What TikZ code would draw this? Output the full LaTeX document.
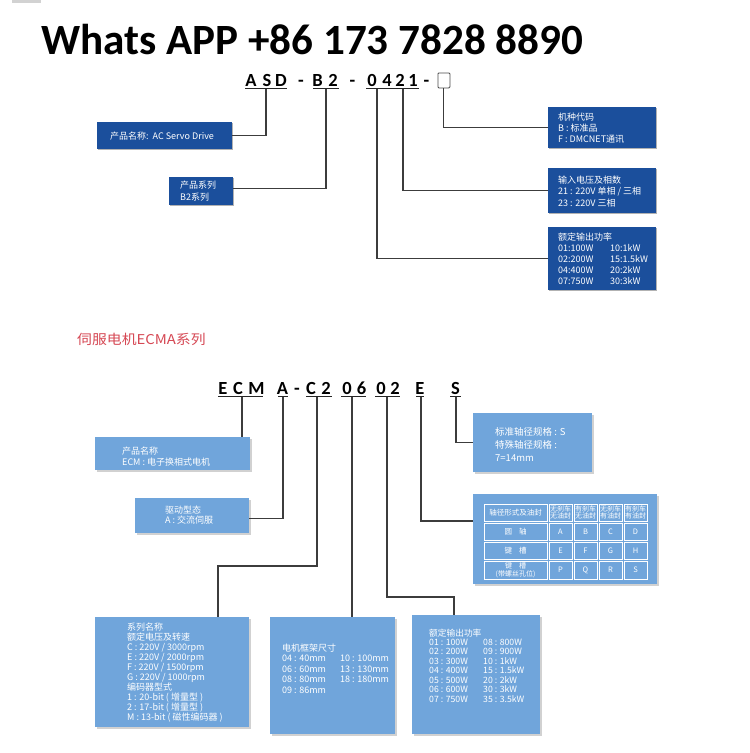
\documentclass[tikz,border=0pt]{standalone}
\usepackage{fontspec}
\setmainfont{Noto Sans CJK SC}
\newfontfamily\titlef{Carlito}
\newfontfamily\cjk{Noto Sans CJK SC}
\usetikzlibrary{shadows}
\definecolor{dblue}{RGB}{27,79,156}
\definecolor{lblue}{RGB}{112,165,219}
\definecolor{redt}{RGB}{214,72,84}
\definecolor{conncol}{RGB}{60,60,60}
\newcommand\Lx[1]{\hbox{#1}}
\newcommand\Stack[2]{\vtop{\baselineskip=#1pt\lineskiplimit=-50pt\lineskip=0pt #2}}
\tikzset{
  dbox/.style={rectangle, fill=dblue, inner sep=0pt, anchor=north west,
    drop shadow={opacity=0.3, shadow xshift=1.2pt, shadow yshift=-1.2pt, fill=black}},
  lbox/.style={rectangle, fill=lblue, inner sep=0pt, anchor=north west,
    drop shadow={opacity=0.18, shadow xshift=1.5pt, shadow yshift=-1.5pt, fill=black}},
  btext/.style={text=white, inner sep=0pt, anchor=base west, font=\cjk\fontsize{9}{10}\selectfont},
  codech/.style={inner sep=0pt, anchor=base, font=\titlef\bfseries\fontsize{18.5}{18.5}\selectfont},
  uline/.style={line width=1.1pt, draw=black!85},
  conn/.style={draw=conncol, line width=1.1pt},
  celltxt/.style={text=white, inner sep=0pt, align=center, font=\cjk\fontsize{7.5}{8}\selectfont},
  cellgrid/.style={draw=white, line width=0.8pt},
}
\begin{document}
\begin{tikzpicture}[x=1pt,y=-1pt]
\useasboundingbox (0,0) rectangle (750,753);
\fill[white] (0,0) rectangle (750,753);
\fill[gray!35] (12,0) rectangle (41,2.5);

% title
\node[anchor=base west, inner sep=0pt] (title) at (41,54)
  {\resizebox{542pt}{!}{\titlef\bfseries Whats APP +86 173 7828 8890}};

% ---------- top code ----------
\node[codech] (cA) at (251,86) {A};
\node[codech] (cS) at (267,86) {S};
\node[codech] (cD) at (281,86) {D};
\node[codech] (cd1) at (301,86) {-};
\node[codech] (cB) at (317.5,86) {B};
\node[codech] (c2) at (333,86) {2};
\node[codech] (cd2) at (352.5,86) {-};
\node[codech] (c0) at (372,86) {0};
\node[codech] (c4) at (387,86) {4};
\node[codech] (c2b) at (400,86) {2};
\node[codech] (c1) at (413,86) {1};
\node[codech] (cd3) at (426.5,86) {-};
\node[draw=black!70, line width=0.8pt, rounded corners=1pt, minimum width=12pt,
  minimum height=15pt, inner sep=0pt, anchor=north west] (sq) at (437.5,72.5) {};
\draw[uline] (245,88.5) -- (287,88.5);
\draw[uline] (313,88.5) -- (339,88.5);
\draw[uline] (366,88.5) -- (419,88.5);
\coordinate (uASD) at (266,88.5);
\coordinate (uB2) at (326,88.5);
\coordinate (u04) at (377,88.5);
\coordinate (u21) at (403,88.5);

% top boxes
\node[dbox, minimum width=135pt, minimum height=27pt] (box1) at (97,122) {};
\node[dbox, minimum width=64pt, minimum height=28pt] (box2) at (169,177) {};
\node[dbox, minimum width=108pt, minimum height=41pt] (box3) at (548,107) {};
\node[dbox, minimum width=108pt, minimum height=45pt] (box4) at (548,168) {};
\node[dbox, minimum width=108pt, minimum height=63pt] (box5) at (548,227) {};

\node[btext] (t1) at (110,139) {产品名称:\ \ AC Servo Drive};
\node[btext] (t2) at (180,188) {\Stack{12}{\Lx{产品系列}\Lx{B2系列}}};
\node[btext] (t3) at (558,120) {\Stack{11}{\Lx{机种代码}\Lx{B : 标准品}\Lx{F : DMCNET通讯}}};
\node[btext] (t4) at (558,183) {\Stack{11.5}{\Lx{输入电压及相数}\Lx{21 : 220V 单相 / 三相}\Lx{23 : 220V 三相}}};
\node[btext] (t5) at (558,240) {\Stack{11.2}{\Lx{额定输出功率}
  \Lx{\makebox[52pt][l]{01:100W}10:1kW}
  \Lx{\makebox[52pt][l]{02:200W}15:1.5kW}
  \Lx{\makebox[52pt][l]{04:400W}20:2kW}
  \Lx{\makebox[52pt][l]{07:750W}30:3kW}}};

\draw[conn] (uASD) |- (box1.east);
\draw[conn] (uB2) |- ([yshift=2.5pt]box2.east);
\draw[conn] (u04) |- (box5.west);
\draw[conn] (u21) |- (box4.west);
\draw[conn] (sq.south) |- (box3.west);

% ---------- bottom ----------
\node[anchor=base west, inner sep=0pt, text=redt, font=\cjk\fontsize{13.5}{13.5}\selectfont] (sub) at (77,344)
  {\scalebox{1.1}[1]{伺服电机ECMA系列}};

\node[codech] (eE) at (223,394) {E};
\node[codech] (eC) at (238,394) {C};
\node[codech] (eM) at (256.5,394) {M};
\node[codech] (eA) at (282.5,394) {A};
\node[codech] (ed) at (297,394) {-};
\node[codech] (eC2) at (311,394) {C};
\node[codech] (e2) at (326,394) {2};
\node[codech] (e0) at (347,394) {0};
\node[codech] (e6) at (361.5,394) {6};
\node[codech] (e0b) at (381,394) {0};
\node[codech] (e2b) at (395,394) {2};
\node[codech] (eE2) at (420,394) {E};
\node[codech] (eS) at (455.5,394) {S};
\draw[uline] (218,396.5) -- (263,396.5);
\draw[uline] (278,396.5) -- (288,396.5);
\draw[uline] (306,396.5) -- (332,396.5);
\draw[uline] (341,396.5) -- (366,396.5);
\draw[uline] (375,396.5) -- (400,396.5);
\draw[uline] (416,396.5) -- (424,396.5);
\draw[uline] (450,396.5) -- (461,396.5);
\coordinate (uECM) at (242,396.5);
\coordinate (uA) at (283,396.5);
\coordinate (uC2) at (317,396.5);
\coordinate (u06) at (352,396.5);
\coordinate (u02) at (387,396.5);
\coordinate (uE) at (421,396.5);
\coordinate (uS) at (456,396.5);
\coordinate (kC2) at (218,566);
\coordinate (k02) at (454,597);
\coordinate (kE) at (421,521);

\node[lbox, minimum width=155pt, minimum height=33pt] (bECM) at (95,437) {};
\node[lbox, minimum width=114pt, minimum height=35pt] (bA) at (135,498) {};
\node[lbox, minimum width=119pt, minimum height=59pt] (bS) at (473,413) {};
\node[lbox, minimum width=184pt, minimum height=90pt] (tbl) at (473,494) {};
\node[lbox, minimum width=154pt, minimum height=110pt] (bSer) at (95,617) {};
\node[lbox, minimum width=125pt, minimum height=117pt] (bFrm) at (270,617) {};
\node[lbox, minimum width=128pt, minimum height=119pt] (bPow) at (412,615) {};

\node[btext] (t6) at (122,454) {\Stack{11}{\Lx{产品名称}\Lx{ECM : 电子换相式电机}}};
\node[btext] (t7) at (165,513) {\Stack{10.5}{\Lx{驱动型态}\Lx{A : 交流伺服}}};
\node[btext, font=\cjk\fontsize{9.5}{10}\selectfont] (t8) at (495,435)
  {\Stack{13}{\Lx{标准轴径规格 : S}\Lx{特殊轴径规格 :}\Lx{7=14mm}}};
\node[btext] (t9) at (127,630) {\Stack{10.1}{\Lx{系列名称}\Lx{额定电压及转速}
  \Lx{C : 220V / 3000rpm}\Lx{E : 220V / 2000rpm}\Lx{F : 220V / 1500rpm}
  \Lx{G : 220V / 1000rpm}\Lx{编码器型式}\Lx{1 : 20-bit ( 增量型 )}
  \Lx{2 : 17-bit ( 增量型 )}\Lx{M : 13-bit ( 磁性编码器 )}}};
\node[btext] (t10) at (282,651) {\Stack{10.5}{\Lx{电机框架尺寸}
  \Lx{\makebox[58pt][l]{04 : 40mm}10 : 100mm}
  \Lx{\makebox[58pt][l]{06 : 60mm}13 : 130mm}
  \Lx{\makebox[58pt][l]{08 : 80mm}18 : 180mm}
  \Lx{09 : 86mm}}};
\node[btext, font=\cjk\fontsize{8.7}{9}\selectfont] (t11) at (429,636) {\Stack{9.45}{\Lx{额定输出功率}
  \Lx{\makebox[54pt][l]{01 : 100W}08 : 800W}
  \Lx{\makebox[54pt][l]{02 : 200W}09 : 900W}
  \Lx{\makebox[54pt][l]{03 : 300W}10 : 1kW}
  \Lx{\makebox[54pt][l]{04 : 400W}15 : 1.5kW}
  \Lx{\makebox[54pt][l]{05 : 500W}20 : 2kW}
  \Lx{\makebox[54pt][l]{06 : 600W}30 : 3kW}
  \Lx{\makebox[54pt][l]{07 : 750W}35 : 3.5kW}}};

% table grid
\foreach \xa/\xb in {483/548, 548/573, 573/598, 598/623, 623/648}
  \foreach \ya/\yb in {503/522, 522/541, 541/560, 560/580}
    \draw[cellgrid] (\xa+1,\ya+1) rectangle (\xb-1,\yb-1);
\node[celltxt] (h1) at (515.5,512.5) {轴径形式及油封};
\node[celltxt, font=\cjk\fontsize{7}{7.5}\selectfont] (h2) at (560.5,512.5) {无刹车\\无油封};
\node[celltxt, font=\cjk\fontsize{7}{7.5}\selectfont] (h3) at (585.5,512.5) {有刹车\\无油封};
\node[celltxt, font=\cjk\fontsize{7}{7.5}\selectfont] (h4) at (610.5,512.5) {无刹车\\有油封};
\node[celltxt, font=\cjk\fontsize{7}{7.5}\selectfont] (h5) at (635.5,512.5) {有刹车\\有油封};
\node[celltxt] (r21) at (515.5,531.5) {圆\hspace{7pt}轴};
\node[celltxt] (r22) at (560.5,531.5) {A};
\node[celltxt] (r23) at (585.5,531.5) {B};
\node[celltxt] (r24) at (610.5,531.5) {C};
\node[celltxt] (r25) at (635.5,531.5) {D};
\node[celltxt] (r31) at (515.5,550.5) {键\hspace{7pt}槽};
\node[celltxt] (r32) at (560.5,550.5) {E};
\node[celltxt] (r33) at (585.5,550.5) {F};
\node[celltxt] (r34) at (610.5,550.5) {G};
\node[celltxt] (r35) at (635.5,550.5) {H};
\node[celltxt, font=\cjk\fontsize{7}{7.5}\selectfont] (r41) at (515.5,570) {键\hspace{7pt}槽\\(带螺丝孔位)};
\node[celltxt] (r42) at (560.5,570) {P};
\node[celltxt] (r43) at (585.5,570) {Q};
\node[celltxt] (r44) at (610.5,570) {R};
\node[celltxt] (r45) at (635.5,570) {S};

% bottom connectors
\draw[conn] (uECM) -- (uECM |- bECM.north);
\draw[conn] (uA) |- ([yshift=-2.5pt]bA.east);
\draw[conn] (uC2) |- (kC2) -- (kC2 |- bSer.north);
\draw[conn] (u06) -- (u06 |- bFrm.north);
\draw[conn] (u02) |- (k02) -- (k02 |- bPow.north);
\draw[conn] (uE) -- (kE) -- (kE -| tbl.west);
\draw[conn] (uS) |- (bS.west);
\end{tikzpicture}
\end{document}
